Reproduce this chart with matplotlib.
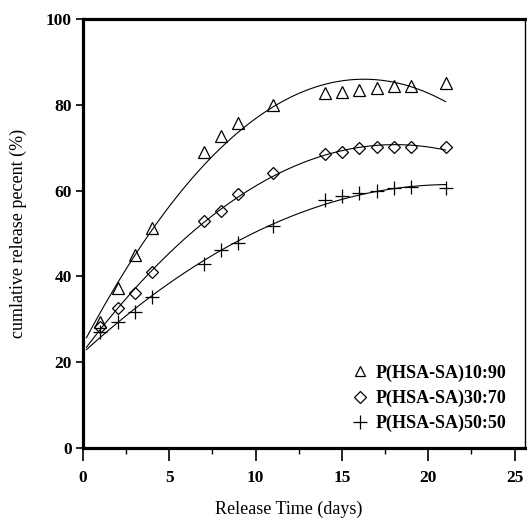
import numpy as np
import matplotlib
matplotlib.use('Agg')
import matplotlib.pyplot as plt

# release data
days = [1, 2, 3, 4, 7, 8, 9, 11, 14, 15, 16, 17, 18, 19, 21]
r_10_90 = [29.4, 37.3, 45.0, 51.3, 69.0, 72.8, 75.7, 80.0, 82.7, 83.0, 83.4, 83.8, 84.4, 84.4, 85.0]
r_30_70 = [28.3, 32.6, 36.1, 41.1, 52.8, 55.2, 59.2, 64.2, 68.5, 69.1, 70.0, 70.1, 70.2, 70.2, 70.2]
r_50_50 = [27.1, 29.3, 31.6, 35.1, 42.9, 46.2, 47.9, 51.7, 57.8, 58.8, 59.4, 59.8, 60.6, 60.8, 60.6]

labels = ['P(HSA-SA)10:90', 'P(HSA-SA)30:70', 'P(HSA-SA)50:50']
markers = ['^', 'D', '+']
sizes = [8, 6.3, 10.5]

plt.rcParams['font.family'] = ['Liberation Serif', 'DejaVu Serif']

fig = plt.figure(figsize=(5.27, 5.19), dpi=100)
ax = fig.add_axes([0.1575, 0.1368, 0.8387, 0.8266])

t = np.linspace(0.2, 21, 200)
for y, m, ms, lab in zip([r_10_90, r_30_70, r_50_50], markers, sizes, labels):
    # quadratic trend line, as in the original
    coef = np.polyfit(days, y, 2)
    ax.plot(t, np.polyval(coef, t), color='black', lw=0.8)
    ax.plot(days, y, linestyle='none', marker=m, ms=ms, mfc='none',
            mec='black', mew=0.9, label=lab)

ax.set_xlim(0, 25.6)
ax.set_ylim(0, 100)
ax.set_xticks([0, 5, 10, 15, 20, 25])
ax.set_xticks(np.arange(2.5, 25, 5), minor=True)
ax.set_yticks([0, 20, 40, 60, 80, 100])

for side in ['left', 'bottom', 'top']:
    ax.spines[side].set_linewidth(2.3)
ax.spines['right'].set_linewidth(1.0)

ax.tick_params(axis='x', which='major', direction='out', length=9, width=1.2, pad=7,
               labelsize=12.5, top=False)
ax.tick_params(axis='x', which='minor', direction='out', length=4.5, width=1.0)
ax.tick_params(axis='y', which='major', direction='out', length=5, width=1.2, pad=3,
               labelsize=12.5)
for lb in ax.get_xticklabels() + ax.get_yticklabels():
    lb.set_fontweight('bold')

ax.set_xlabel('Release Time (days)', fontsize=13)
ax.xaxis.set_label_coords(0.465, -0.123)
ax.set_ylabel('cumlative release pecent (%)', fontsize=13)
ax.yaxis.set_label_coords(-0.127, 0.5)

leg = ax.legend(loc='lower right', bbox_to_anchor=(1.0, -0.008), frameon=False,
                handlelength=0.8, handletextpad=0.45, labelspacing=0.45,
                markerscale=0.9, borderaxespad=0.65,
                prop={'family': 'Liberation Serif', 'weight': 'bold', 'size': 13})

fig.savefig('out.png', dpi=100)
